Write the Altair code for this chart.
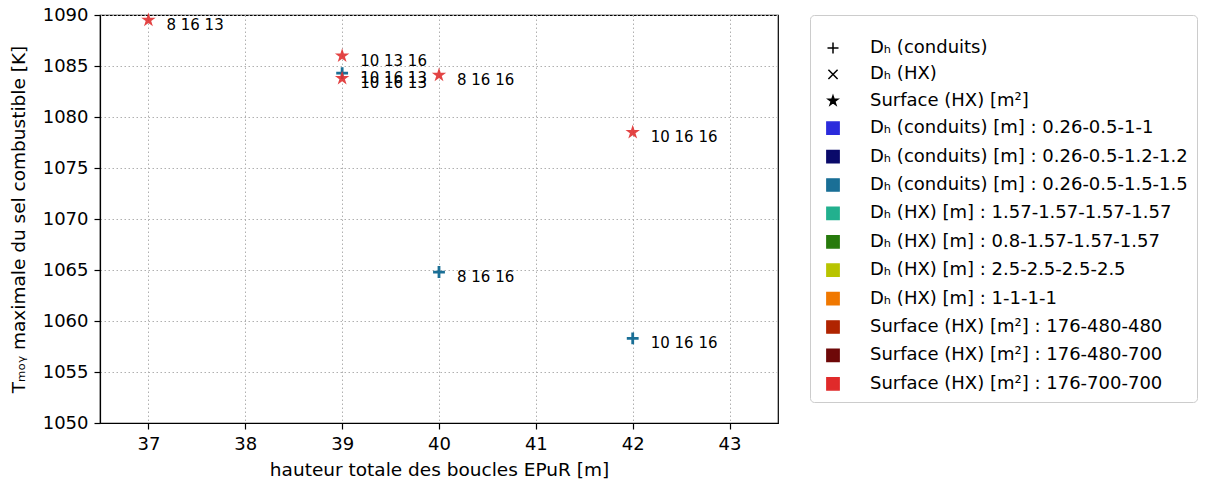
import altair as alt
import pandas as pd

# ---- data ----
xs = [37, 39, 39, 39, 40, 42, 40, 42]
ys = [1089.5, 1086.0, 1084.3, 1083.8, 1084.1, 1078.5, 1064.8, 1058.3]
kinds = ["star", "star", "plus", "star", "star", "star", "plus", "plus"]
labels = ["8 16 13", "10 13 16", "10 16 13", "10 16 13", "8 16 16", "10 16 16", "8 16 16", "10 16 16"]

legend_items = [
    "Dₕ (conduits)",
    "Dₕ (HX)",
    "Surface (HX) [m²]",
    "Dₕ (conduits) [m] : 0.26-0.5-1-1",
    "Dₕ (conduits) [m] : 0.26-0.5-1.2-1.2",
    "Dₕ (conduits) [m] : 0.26-0.5-1.5-1.5",
    "Dₕ (HX) [m] : 1.57-1.57-1.57-1.57",
    "Dₕ (HX) [m] : 0.8-1.57-1.57-1.57",
    "Dₕ (HX) [m] : 2.5-2.5-2.5-2.5",
    "Dₕ (HX) [m] : 1-1-1-1",
    "Surface (HX) [m²] : 176-480-480",
    "Surface (HX) [m²] : 176-480-700",
    "Surface (HX) [m²] : 176-700-700",
]
legend_colors = ["#000000", "#000000", "#000000",
                 "#2b2bdc", "#0a0a6a", "#1a6f96", "#22b08e", "#277a0c",
                 "#b8c400", "#f07800", "#b02400", "#6e0808", "#e02a2a"]
PLUS = "M-1,0L1,0M0,-1L0,1"
PLUS_S = "M-0.9,0L0.9,0M0,-0.9L0,0.9"
XSHAPE = "M-0.75,-0.75L0.75,0.75M-0.75,0.75L0.75,-0.75"
STAR = ("M0,-1L0.2245,-0.309L0.9511,-0.309L0.3633,0.118L0.5878,0.809L0,0.382"
        "L-0.5878,0.809L-0.3633,0.118L-0.9511,-0.309L-0.2245,-0.309Z")
STAR_S = ("M0,-0.8L0.18,-0.247L0.761,-0.247L0.291,0.094L0.47,0.647L0,0.306"
          "L-0.47,0.647L-0.291,0.094L-0.761,-0.247L-0.18,-0.247Z")
legend_shapes = [PLUS_S, XSHAPE, STAR_S] + ["square"] * 10

FONT = "DejaVu Sans"

df = pd.DataFrame({"x": xs, "y": ys, "kind": kinds, "label": labels})
leg = pd.DataFrame({"entry": legend_items, "x": [37] * 13, "y": [1089.5] * 13})

xscale = alt.Scale(domain=[36.5, 43.5], nice=False, zero=False)
yscale = alt.Scale(domain=[1050, 1090], nice=False, zero=False)

xaxis = alt.Axis(values=[37, 38, 39, 40, 41, 42, 43], format="d",
                 title="hauteur totale des boucles EPuR [m]", titlePadding=7)
yaxis = alt.Axis(values=list(range(1050, 1091, 5)), format="d",
                 title="Tₘₒᵧ maximale du sel combustible [K]", titlePadding=14)

base = alt.Chart(df).encode(
    x=alt.X("x:Q", scale=xscale, axis=xaxis),
    y=alt.Y("y:Q", scale=yscale, axis=yaxis),
)

stars = base.transform_filter(alt.datum.kind == "star").mark_point(
    shape=STAR, filled=True, size=230, color="#e03030", opacity=0.9, strokeWidth=0)

pluses = base.transform_filter(alt.datum.kind == "plus").mark_point(
    shape=PLUS, filled=False, size=140, color="#1a6f96", strokeWidth=2.8, opacity=1)

texts = base.mark_text(align="left", baseline="middle", dx=18, dy=5,
                       font=FONT, fontSize=15, color="black").encode(text="label:N")

legend_kw = dict(
    title=".", titleFontSize=10, titlePadding=5, titleColor="white",
    orient="none", legendX=710, legendY=0,
    padding=9, cornerRadius=4, strokeColor="#cccccc", fillColor="white",
    symbolOpacity=1, symbolSize=150, symbolStrokeWidth=1.5,
    symbolOffset=5,
    labelFont=FONT, labelFontSize=18, labelColor="black",
    labelLimit=500, labelOffset=28, rowPadding=8.4,
)

legend_layer = alt.Chart(leg).mark_point(opacity=0, filled=True, size=150).encode(
    x=alt.X("x:Q", scale=xscale),
    y=alt.Y("y:Q", scale=yscale),
    fill=alt.Fill("entry:N", scale=alt.Scale(domain=legend_items, range=legend_colors),
                  legend=alt.Legend(**legend_kw)),
    stroke=alt.Stroke("entry:N", scale=alt.Scale(domain=legend_items, range=legend_colors),
                      legend=alt.Legend(**legend_kw)),
    shape=alt.Shape("entry:N", scale=alt.Scale(domain=legend_items, range=legend_shapes),
                    legend=alt.Legend(**legend_kw)),
)

chart = alt.layer(legend_layer, pluses, stars, texts).properties(
    width=678, height=408,
    autosize=alt.AutoSizeParams(type="none"),
    padding={"left": 92, "top": 7, "right": 422, "bottom": 56},
).configure_view(stroke="black", strokeWidth=1.2).configure_axis(
    labelFont=FONT, labelFontSize=18, labelColor="black",
    titleFont=FONT, titleFontSize=18.5, titleColor="black", titleFontWeight="normal",
    domainColor="black", domainWidth=1.2, tickColor="black", tickSize=6, tickWidth=1.2,
    grid=True, gridColor="#b0b0b0", gridDash=[1.5, 2.5], gridWidth=1,
).configure_axisX(labelPadding=6).configure_axisY(labelPadding=6)

chart.save("out.html", embed_options={"renderer": "svg", "actions": False})
